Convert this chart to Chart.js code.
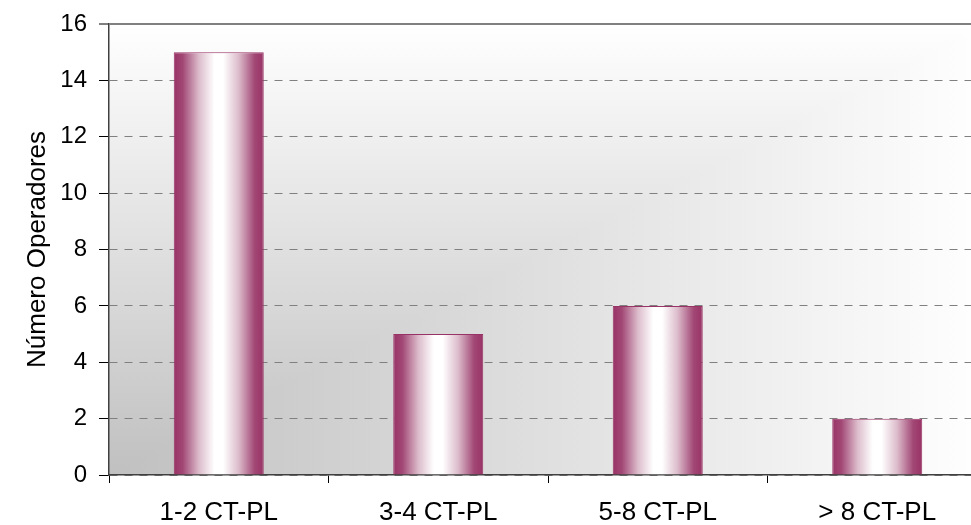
<!DOCTYPE html>
<html>
<head>
<meta charset="utf-8">
<script src="https://cdn.jsdelivr.net/npm/chart.js@4/dist/chart.umd.min.js"></script>
<style>
  html, body { margin: 0; padding: 0; background: #ffffff; overflow: hidden; }
  #wrap { width: 971px; height: 525px; position: relative; overflow: hidden; }
  #c { position: absolute; left: 0; top: 0; }
</style>
</head>
<body>
<div id="wrap"><canvas id="c" width="987" height="525"></canvas></div>
<script>
const categories = ['1-2 CT-PL', '3-4 CT-PL', '5-8 CT-PL', '> 8 CT-PL'];
const operadores = [15, 5, 6, 2];
const yTickMin = 0;
const yTickMax = 16;
const yTickStep = 2;
const yTitle = 'Número Operadores';

const FONT = "'Liberation Sans', Arial, sans-serif";
const BAR_PCT = 0.41;

function barGradient(context) {
  const chart = context.chart;
  if (!chart.chartArea || !chart.scales || !chart.scales.x || context.dataIndex === undefined) return '#993366';
  const xs = chart.scales.x;
  const c = xs.getPixelForValue(context.dataIndex);
  const w = (xs.width / categories.length) * BAR_PCT;
  const g = chart.ctx.createLinearGradient(c - w / 2, 0, c + w / 2, 0);
  g.addColorStop(0.00, '#993366');
  g.addColorStop(0.10, '#a24775');
  g.addColorStop(0.28, '#dcbccb');
  g.addColorStop(0.45, '#ffffff');
  g.addColorStop(0.55, '#ffffff');
  g.addColorStop(0.72, '#dcbccb');
  g.addColorStop(0.90, '#a24775');
  g.addColorStop(1.00, '#993366');
  return g;
}

// "from corner" rectangular gradient behind the plot area
const plotBackground = {
  id: 'plotBackground',
  beforeDraw(chart) {
    const { ctx, chartArea: a } = chart;
    if (!a) return;
    const dark = '#c0c0c0', light = '#ffffff';
    ctx.save();
    let g = ctx.createLinearGradient(a.left, 0, a.right, 0);
    g.addColorStop(0, dark); g.addColorStop(1, light);
    ctx.fillStyle = g;
    ctx.fillRect(a.left, a.top, a.right - a.left, a.bottom - a.top);
    ctx.beginPath();
    ctx.moveTo(a.left, a.bottom);
    ctx.lineTo(a.left, a.top);
    ctx.lineTo(a.right, a.top);
    ctx.closePath();
    g = ctx.createLinearGradient(0, a.bottom, 0, a.top);
    g.addColorStop(0, dark); g.addColorStop(1, light);
    ctx.fillStyle = g;
    ctx.fill();
    ctx.restore();
  }
};

new Chart(document.getElementById('c'), {
  type: 'bar',
  data: {
    labels: categories,
    datasets: [{
      label: yTitle,
      data: operadores,
      backgroundColor: barGradient,
      borderColor: '#993366',
      borderWidth: 1,
      barPercentage: BAR_PCT,
      categoryPercentage: 1.0
    }]
  },
  plugins: [plotBackground],
  options: {
    responsive: false,
    animation: false,
    layout: { padding: { top: 24, right: 0, bottom: 0, left: 0 } },
    plugins: {
      legend: { display: false },
      tooltip: { enabled: false }
    },
    scales: {
      x: {
        afterFit(scale) { scale.height = 50; scale.paddingLeft = 0; scale.paddingRight = 0; },
        grid: {
          drawOnChartArea: false,
          drawTicks: true,
          tickLength: 8,
          tickColor: '#000000',
          tickWidth: 1,
          offset: true
        },
        border: { display: true, color: '#404040', width: 1.5 },
        ticks: {
          color: '#000000',
          font: { family: FONT, size: 26 },
          padding: 14,
          maxRotation: 0,
          autoSkip: false
        }
      },
      y: {
        min: yTickMin,
        max: yTickMax,
        afterFit(scale) { scale.width = 109; scale.paddingTop = 0; scale.paddingBottom = 0; },
        grid: {
          color: '#808080',
          lineWidth: (ctx) => (ctx.tick && ctx.tick.value === yTickMax) ? 2 : 1,
          tickLength: 10,
          tickColor: '#000000',
          tickWidth: 1
        },
        border: {
          display: true,
          color: '#404040',
          width: 1.5,
          dash: (ctx) => (ctx.tick && ctx.tick.value === yTickMax) ? [] : [8, 7]
        },
        ticks: {
          stepSize: yTickStep,
          color: '#000000',
          font: { family: FONT, size: 24 },
          padding: 12
        },
        title: {
          display: true,
          text: yTitle,
          color: '#000000',
          font: { family: FONT, size: 26 },
          padding: { top: 22, bottom: 0 }
        }
      }
    }
  }
});
</script>
</body>
</html>
